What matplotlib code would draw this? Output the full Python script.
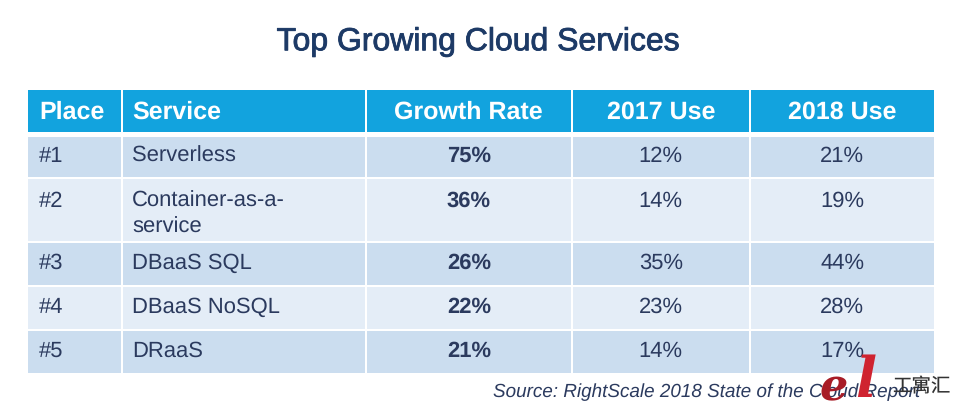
import matplotlib
matplotlib.use("Agg")
import matplotlib.pyplot as plt
import matplotlib.patheffects as pe
from matplotlib.patches import Rectangle

plt.rcParams['font.family'] = ['Liberation Sans', 'DejaVu Sans']
plt.rcParams['text.hinting'] = 'no_hinting'

# Data
titulo = "Top Growing Cloud Services"
cabecalho = ["Place", "Service", "Growth Rate", "2017 Use", "2018 Use"]
lugares = ["#1", "#2", "#3", "#4", "#5"]
servicos = ["Serverless", "Container-as-a-\nservice", "DBaaS SQL", "DBaaS NoSQL", "DRaaS"]
crescimento = ["75%", "36%", "26%", "22%", "21%"]
uso_2017 = ["12%", "14%", "35%", "23%", "14%"]
uso_2018 = ["21%", "19%", "44%", "28%", "17%"]
fonte = "Source: RightScale 2018 State of the Cloud Report"

# Layout in image pixels
colunas = [(28, 121), (122.5, 365), (366.5, 571), (572.5, 749), (750.5, 934)]
linhas = [(137, 177), (179, 241), (243, 285), (287, 329), (331, 373)]
recuo = [9, 12, 10, 10, 10]  # distancia do topo da celula ao texto
cor_texto = "#2b3a5e"
cor_titulo = "#1d3a66"
cor_cab = "#12a3de"
cor_par = "#cbddef"
cor_impar = "#e4edf7"

fig = plt.figure(figsize=(9.6, 4.16), dpi=100)
ax = fig.add_axes([0, 0, 1, 1])
ax.set_xlim(0, 960)
ax.set_ylim(416, 0)
ax.axis("off")

t = ax.text(478.5, 42, titulo, ha="center", va="center", fontsize=23, color=cor_titulo)
t.set_path_effects([pe.withStroke(linewidth=0.6, foreground=cor_titulo)])


def celula_x(i):
    x0, x1 = colunas[i]
    if i == 0:
        return x0 + 11, "left"
    if i == 1:
        return x0 + 9.5, "left"
    return (x0 + x1) / 2, "center"


# Header
for i, nome in enumerate(cabecalho):
    x0, x1 = colunas[i]
    ax.add_patch(Rectangle((x0, 90), x1 - x0, 42, color=cor_cab, lw=0))
    x, ha = celula_x(i)
    ax.text(x, 112, nome, ha=ha, va="center", fontsize=18, fontweight="bold", color="white")

# Body
valores = [lugares, servicos, crescimento, uso_2017, uso_2018]
for j, (y0, y1) in enumerate(linhas):
    cor = cor_par if j % 2 == 0 else cor_impar
    for i, coluna in enumerate(valores):
        x0, x1 = colunas[i]
        ax.add_patch(Rectangle((x0, y0), x1 - x0, y1 - y0, color=cor, lw=0))
        x, ha = celula_x(i)
        peso = "bold" if i == 2 else "normal"
        ax.text(x, y0 + recuo[j], coluna[j], ha=ha, va="top", fontsize=15.8, color=cor_texto,
                fontweight=peso, linespacing=1.32)

ax.text(920, 392, fonte, ha="right", va="center", fontsize=13.6, style="italic", color=cor_texto)

# Watermark
ax.text(834, 388, "e", ha="center", va="center", fontsize=32, style="italic",
        fontweight="bold", color="#a81c26", family="DejaVu Serif")
ax.text(866, 382, "l", ha="center", va="center", fontsize=40, style="italic",
        fontweight="bold", color="#cf2330", family="DejaVu Serif")
ax.text(921, 387, "工寓汇", ha="center", va="center", fontsize=14, color="#333333",
        family=["Noto Sans CJK SC", "DejaVu Sans"])

fig.savefig("out.png", dpi=100)
